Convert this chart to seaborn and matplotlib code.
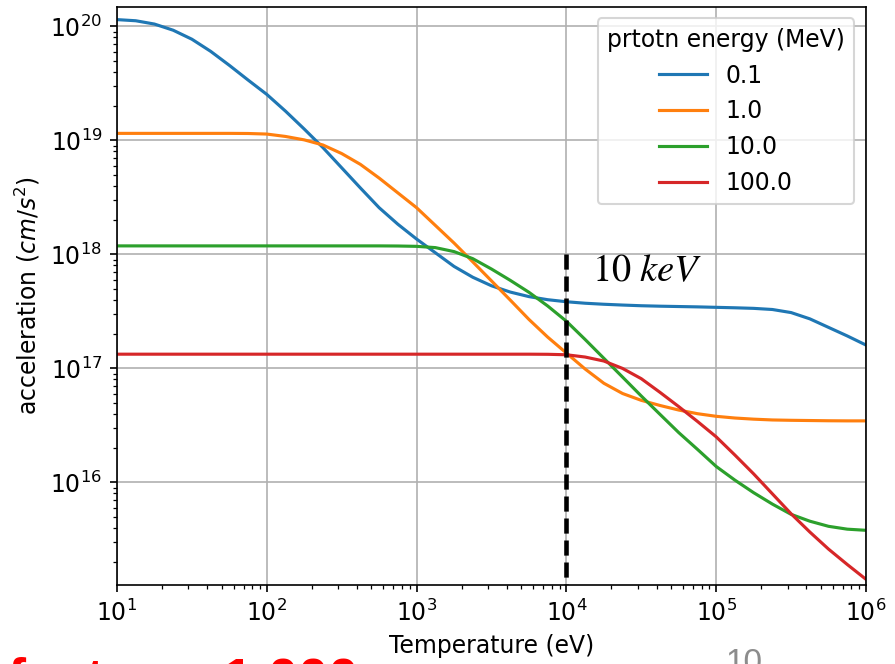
import numpy as np
import pandas as pd
import matplotlib
matplotlib.use("Agg")
import matplotlib.pyplot as plt
import seaborn as sns

# Plasma temperature grid, log10(T / eV), eighth-decade steps
log_temperature = [1.000, 1.125, 1.250, 1.375, 1.500, 1.625, 1.750, 1.875,
                   2.000, 2.125, 2.250, 2.375, 2.500, 2.625, 2.750, 2.875,
                   3.000, 3.125, 3.250, 3.375, 3.500, 3.625, 3.750, 3.875,
                   4.000, 4.125, 4.250, 4.375, 4.500, 4.625, 4.750, 4.875,
                   5.000, 5.125, 5.250, 5.375, 5.500, 5.625, 5.750, 5.875,
                   6.000]

# log10 of acceleration (cm/s^2) for each proton energy
log_accel_0p1MeV = [20.060, 20.050, 20.021, 19.967, 19.888, 19.782, 19.659, 19.530,
                    19.404, 19.257, 19.100, 18.937, 18.760, 18.583, 18.410, 18.265,
                    18.135, 18.015, 17.895, 17.800, 17.725, 17.670, 17.630, 17.603,
                    17.585, 17.572, 17.563, 17.556, 17.550, 17.546, 17.543, 17.540,
                    17.536, 17.532, 17.527, 17.517, 17.490, 17.435, 17.360, 17.285,
                    17.205]
log_accel_1MeV = [19.062, 19.062, 19.062, 19.062, 19.062, 19.062, 19.062, 19.061,
                  19.056, 19.035, 19.005, 18.960, 18.885, 18.790, 18.670, 18.540,
                  18.410, 18.255, 18.100, 17.935, 17.768, 17.600, 17.430, 17.275,
                  17.135, 16.995, 16.870, 16.780, 16.720, 16.675, 16.635, 16.603,
                  16.580, 16.565, 16.555, 16.548, 16.545, 16.543, 16.541, 16.540,
                  16.540]
log_accel_10MeV = [18.075, 18.075, 18.075, 18.075, 18.075, 18.075, 18.075, 18.075,
                   18.075, 18.075, 18.075, 18.075, 18.075, 18.075, 18.075, 18.074,
                   18.071, 18.060, 18.025, 17.963, 17.872, 17.773, 17.668, 17.548,
                   17.414, 17.254, 17.089, 16.924, 16.758, 16.597, 16.437, 16.290,
                   16.140, 16.020, 15.910, 15.810, 15.720, 15.660, 15.615, 15.590,
                   15.580]
log_accel_100MeV = [17.125, 17.125, 17.125, 17.125, 17.125, 17.125, 17.125, 17.125,
                    17.125, 17.125, 17.125, 17.125, 17.125, 17.125, 17.125, 17.125,
                    17.125, 17.125, 17.125, 17.125, 17.125, 17.125, 17.125, 17.124,
                    17.120, 17.100, 17.065, 17.000, 16.910, 16.790, 16.665, 16.535,
                    16.400, 16.240, 16.075, 15.900, 15.725, 15.565, 15.415, 15.280,
                    15.150]

energy_labels = ["0.1", "1.0", "10.0", "100.0"]
series = [log_accel_0p1MeV, log_accel_1MeV, log_accel_10MeV, log_accel_100MeV]

# 10 keV reference marker
marker_T = 1.0e4
marker_top = 1.0e18

x_limits = (10.0, 1.0e6)
y_limits = (1.26e15, 1.49e20)

plt.rcParams["font.size"] = 11.3

temperature = 10.0 ** np.asarray(log_temperature)
frames = []
for label, values in zip(energy_labels, series):
    frames.append(pd.DataFrame({"Temperature": temperature,
                                "acceleration": 10.0 ** np.asarray(values),
                                "energy": label}))
df = pd.concat(frames, ignore_index=True)

fig = plt.figure(figsize=(895 / 150, 664 / 150), dpi=150)
ax = fig.add_axes([0.1307, 0.119, 0.8369, 0.8709])

sns.lineplot(data=df, x="Temperature", y="acceleration", hue="energy",
             hue_order=energy_labels, palette="tab10", ax=ax, linewidth=1.5)

ax.set_xscale("log")
ax.set_yscale("log")
ax.set_xlim(*x_limits)
ax.set_ylim(*y_limits)
ax.grid(True)
ax.set_xlabel("Temperature (eV)")
ax.set_ylabel("acceleration ($cm/s^2$)")

ax.legend(title="prtotn energy (MeV)", loc="upper right")

# vertical dashed marker at 10 keV
ax.plot([marker_T, marker_T], [marker_top, y_limits[0]], color="black",
        linewidth=2.2, linestyle=(0, (3.3, 1.5)), zorder=5)
ax.text(1.49e4, 5.85e17, r"$10\ keV$", fontsize=18.5, va="baseline",
        ha="left", math_fontfamily="stix", color="black")

# slide fragments along the lower edge
fig.text(0.009, 0.012, "factor: ~1,000", color="red", fontsize=26,
         fontweight="bold", family="Liberation Sans", va="top", ha="left")
fig.text(725 / 895, 1 - 648 / 664, "10", color="#8c8c8c", fontsize=16,
         family="Liberation Sans", va="top", ha="left")

fig.savefig("out.png", dpi=150)
